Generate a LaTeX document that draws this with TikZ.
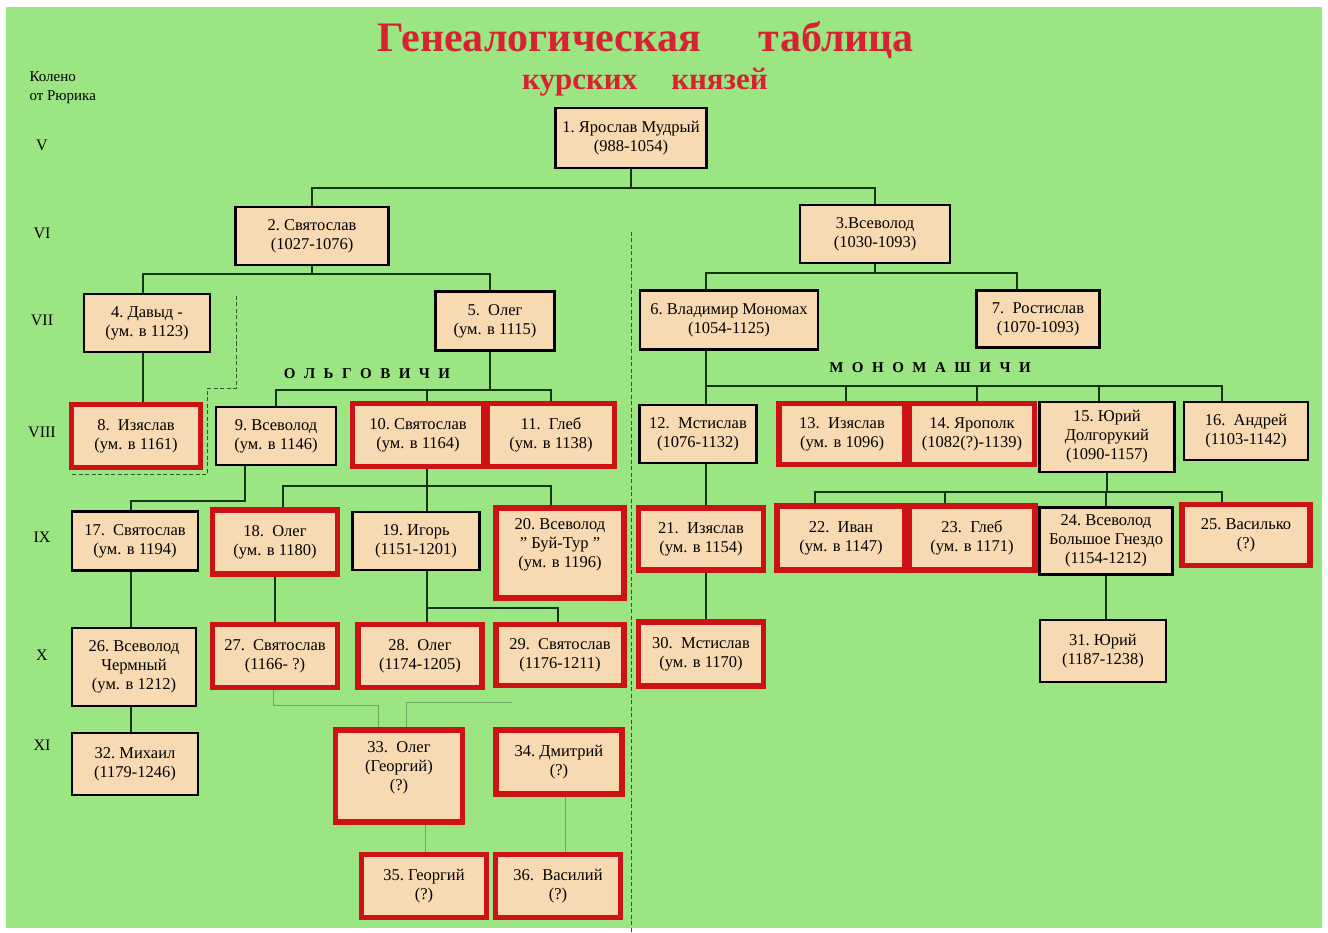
\documentclass[tikz,border=0pt]{standalone}
\usepackage{fontspec}
\setmainfont{Liberation Serif}
\usetikzlibrary{positioning,calc}

\definecolor{meadow}{RGB}{156,229,131}
\definecolor{parchment}{RGB}{247,217,178}
\definecolor{bloodred}{RGB}{204,18,20}
\definecolor{stemgreen}{RGB}{22,52,22}
\definecolor{titlered}{RGB}{216,34,52}

\newcommand\clangap{\hspace{8.5pt}}

\begin{document}
\begin{tikzpicture}[
  x=1pt, y=-1pt,
  prince/.style={draw=black, line width=2.6pt, fill=parchment, align=center,
    font=\fontsize{16.5}{19}\selectfont, inner sep=2pt,
    minimum width=126pt, minimum height=60pt},
  lastline/.style={prince, draw=bloodred, line width=5.5pt},
  stem/.style={draw=stemgreen, line width=1.7pt},
  faint/.style={draw=stemgreen!35!meadow, line width=0.9pt},
  border/.style={draw=stemgreen!80!meadow, line width=0.9pt, dash pattern=on 4pt off 2.5pt},
  gen/.style={font=\fontsize{16}{18}\selectfont},
  clan/.style={font=\fontsize{15}{16}\selectfont\bfseries},
  heading/.style={text=titlered, font=\bfseries}
]
\useasboundingbox (0,0) rectangle (1328,933);
\fill[white] (0,0) rectangle (1328,933);
\fill[meadow] (6,7) rectangle (1322,928);

% title
\node[heading, font=\fontsize{42}{46}\selectfont\bfseries] (head) at (646,40)
  {Генеалогическая\hspace{58pt}таблица};
\node[heading, font=\fontsize{31}{34}\selectfont\bfseries] (subhead) at (645,82)
  {курских\hspace{34pt}князей};

% generations
\node[anchor=west, align=left, font=\fontsize{15}{19}\selectfont] (knee) at (26,88)
  {Колено\\от Рюрика};
\foreach \r/\y in {V/145, VI/233, VII/320, VIII/432, IX/537, X/655, XI/745}
  \node[gen] (g\r) at (42,\y) {\r};

% princes
\node[prince, minimum width=151pt] (n1) at (631,138) {1.~Ярослав Мудрый\\(988-1054)};
\node[prince, minimum width=153pt, minimum height=58pt] (n2) at (312,236) {2.~Святослав\\(1027-1076)};
\node[prince, minimum width=150pt, minimum height=58pt] (n3) at (875,234) {3.Всеволод\\(1030-1093)};

\node[prince, minimum height=58pt] (n4) at (147,323) {4.~Давыд -\\(ум. в 1123)};
\node[prince, minimum width=119pt, minimum height=59pt] (n5) at (495,321) {5.~~Олег\\(ум. в 1115)};
\node[prince, minimum width=178pt, minimum height=59pt] (n6) at (729,320) {6.~Владимир Мономах\\(1054-1125)};
\node[prince, minimum width=123pt, minimum height=57pt] (n7) at (1038,319) {7.~~Ростислав\\(1070-1093)};

\node[lastline, minimum width=129pt, minimum height=63pt] (n8) at (136,436) {8.~~Изяслав\\(ум. в 1161)};
\node[prince, minimum width=120pt, minimum height=58pt] (n9) at (276,436) {9.~Всеволод\\(ум. в 1146)};
\node[lastline, minimum width=131pt, minimum height=63pt] (n10) at (418,435) {10.~Святослав\\(ум. в 1164)};
\node[lastline, minimum width=127pt, minimum height=63pt] (n11) at (551,435) {11.~~Глеб\\(ум. в 1138)};
\node[prince, minimum width=117pt, minimum height=58pt] (n12) at (698,434) {12.~~Мстислав\\(1076-1132)};
\node[lastline, minimum height=61pt] (n13) at (842,434) {13.~~Изяслав\\(ум. в 1096)};
\node[lastline, minimum width=125pt, minimum height=61pt] (n14) at (972,434) {14.~Ярополк\\(1082(?)-1139)};
\node[prince, minimum width=135pt, minimum height=70pt] (n15) at (1107,437) {15.~Юрий\\Долгорукий\\(1090-1157)};
\node[prince, minimum width=124pt, minimum height=58pt] (n16) at (1246,431) {16.~~Андрей\\(1103-1142)};

\node[prince, minimum height=59pt] (n17) at (135,541) {17.~~Святослав\\(ум. в 1194)};
\node[lastline, minimum width=125pt, minimum height=64pt] (n18) at (275,542) {18.~~Олег\\(ум. в 1180)};
\node[prince, minimum width=127pt, minimum height=58pt] (n19) at (416,541) {19.~Игорь\\(1151-1201)};
\node[lastline, minimum width=128pt, minimum height=90pt] (n20) at (560,553) {20.~Всеволод\\"~Буй-Тур~"\\(ум. в 1196)\\};
\node[lastline, minimum width=125pt, minimum height=62pt] (n21) at (701,539) {21.~~Изяслав\\(ум. в 1154)};
\node[lastline, minimum width=128pt, minimum height=64pt] (n22) at (841,538) {22.~~Иван\\(ум. в 1147)};
\node[lastline, minimum height=64pt] (n23) at (972,538) {23.~~Глеб\\(ум. в 1171)};
\node[prince, minimum width=133pt, minimum height=67pt] (n24) at (1106,541) {24.~Всеволод\\Большое Гнездо\\(1154-1212)};
\node[lastline, minimum width=128pt, minimum height=61pt] (n25) at (1246,535) {25.~Василько\\(?)};

\node[prince, minimum width=124pt, minimum height=78pt] (n26) at (134,667) {26.~Всеволод\\Чермный\\(ум. в 1212)};
\node[lastline, minimum width=125pt, minimum height=63pt] (n27) at (275,656) {27.~~Святослав\\(1166-~?)};
\node[lastline, minimum width=124pt, minimum height=63pt] (n28) at (420,656) {28.~~Олег\\(1174-1205)};
\node[lastline, minimum width=128pt, minimum height=61pt] (n29) at (560,655) {29.~~Святослав\\(1176-1211)};
\node[lastline, minimum width=125pt, minimum height=64pt] (n30) at (701,654) {30.~~Мстислав\\(ум. в 1170)};
\node[prince, minimum height=62pt] (n31) at (1103,651) {31.~Юрий\\(1187-1238)};

\node[prince, minimum height=62pt] (n32) at (135,764) {32.~Михаил\\(1179-1246)};
\node[lastline, minimum width=127pt, minimum height=92pt] (n33) at (399,776) {33.~~Олег\\(Георгий)\\(?)\\};
\node[lastline, minimum height=64pt] (n34) at (559,762) {34.~Дмитрий\\(?)};
\node[lastline, minimum width=125pt, minimum height=63pt] (n35) at (424,886) {35.~Георгий\\(?)};
\node[lastline, minimum width=125pt, minimum height=63pt] (n36) at (558,886) {36.~~Василий\\(?)};

% clans
\node[clan] (olg) at (367,374) {О\clangap Л\clangap Ь\clangap Г\clangap О\clangap В\clangap И\clangap Ч\clangap И};
\node[clan] (mono) at (930,368) {М\clangap О\clangap Н\clangap О\clangap М\clangap А\clangap Ш\clangap И\clangap Ч\clangap И};

% lines of descent
\draw[stem] (n1.south) -- ++(0,19) -| (n2.north);
\draw[stem] (n1.south) -- ++(0,19) -| (n3.north);

\draw[stem] (n2.south) -- ++(0,8) -| ([xshift=-4pt]n4.north);
\draw[stem] (n2.south) -- ++(0,8) -| ([xshift=-5pt]n5.north);
\draw[stem] (n3.south) -- ++(0,9) -| ([xshift=-23pt]n6.north);
\draw[stem] (n3.south) -- ++(0,9) -| ([xshift=-21pt]n7.north);

\draw[stem] ([xshift=-4pt]n4.south) -- ([xshift=-4pt]n4.south |- n8.north);
\draw[stem] ([xshift=-5pt]n5.south) -- ++(0,38) -| (n9.north);
\draw[stem] ([xshift=-5pt]n5.south) -- ++(0,38) -| ([xshift=9pt]n10.north);
\draw[stem] ([xshift=-5pt]n5.south) -- ++(0,38) -| (n11.north);

\draw[stem] ([xshift=-23pt]n6.south) -- ++(0,35) -| ([xshift=8pt]n12.north);
\draw[stem] ([xshift=-23pt]n6.south) -- ++(0,35) -| ([xshift=4pt]n13.north);
\draw[stem] ([xshift=-23pt]n6.south) -- ++(0,35) -| ([xshift=5pt]n14.north);
\draw[stem] ([xshift=-23pt]n6.south) -- ++(0,35) -| ([xshift=-8pt]n15.north);
\draw[stem] ([xshift=-23pt]n6.south) -- ++(0,35) -| ([xshift=-24pt]n16.north);

\draw[stem] ([xshift=-31pt]n9.south) -- ++(0,35) -| ([xshift=-4pt]n17.north);
\draw[stem] ([xshift=9pt]n10.south) -- ++(0,17) -| ([xshift=8pt]n18.north);
\draw[stem] ([xshift=9pt]n10.south) -- ++(0,17) -| ([xshift=11pt]n19.north);
\draw[stem] ([xshift=9pt]n10.south) -- ++(0,17) -| ([xshift=-9pt]n20.north);

\draw[stem] ([xshift=8pt]n12.south) -- ([xshift=8pt]n12.south |- n21.north);
\draw[stem] (n15.south) -- ++(0,19) -| ([xshift=-26pt]n22.north);
\draw[stem] (n15.south) -- ++(0,19) -| ([xshift=-27pt]n23.north);
\draw[stem] (n15.south) -- ++(0,19) -| (n24.north);
\draw[stem] (n15.south) -- ++(0,19) -| ([xshift=-24pt]n25.north);

\draw[stem] ([xshift=-4pt]n17.south) -- ([xshift=-4pt]n17.south |- n26.north);
\draw[stem] (n18.south) -- (n18.south |- n27.north);
\draw[stem] ([xshift=11pt]n19.south) -- ++(0,37) -| ([xshift=7pt]n28.north);
\draw[stem] ([xshift=11pt]n19.south) -- ++(0,37) -| ([xshift=-2pt]n29.north);
\draw[stem] ([xshift=5pt]n21.south) -- ([xshift=5pt]n21.south |- n30.north);
\draw[stem] (n24.south) -- (n24.south |- n31.north);
\draw[stem] ([xshift=-3pt]n26.south) -- ([xshift=-3pt]n26.south |- n32.north);

% uncertain descent
\coordinate (fadeend) at (512,702);
\draw[faint] ([xshift=-2pt]n27.south) -- ++(0,15) -| ([xshift=-21pt]n33.north);
\draw[faint] ([xshift=7pt]n33.north) |- (fadeend);
\draw[faint] ([xshift=26pt]n33.south) -- ([xshift=26pt]n33.south |- n35.north);
\draw[faint] ([xshift=6pt]n34.south) -- ([xshift=6pt]n34.south |- n36.north);

% dividers
\draw[border] (631,232) -- (631,933);
\draw[border] (236,296) -- (236,388) -- (207,388) -- (207,474) -- (72,474);

\end{tikzpicture}
\end{document}
